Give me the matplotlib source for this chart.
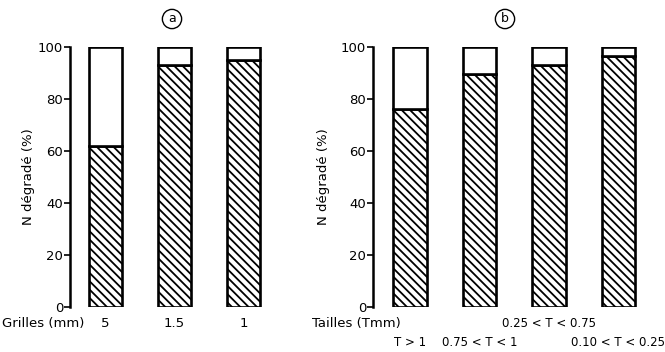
import matplotlib
matplotlib.use("Agg")
import matplotlib.pyplot as plt

# Data
grilles_labels = ["5", "1.5", "1"]
grilles_values = [62, 93, 95]
tailles_labels = ["T > 1", "0.75 < T < 1", "0.25 < T < 0.75", "0.10 < T < 0.25"]
tailles_values = [76, 89.5, 93, 96.5]
yticks = [0, 20, 40, 60, 80, 100]

plt.rcParams['font.family'] = ['DejaVu Sans']
plt.rcParams['hatch.linewidth'] = 1.3

fig = plt.figure(figsize=(6.65, 3.52), dpi=100)
axa = fig.add_axes([70/665, 1-307/352, 208/665, 260/352])
axb = fig.add_axes([373/665, 1-307/352, 280/665, 260/352])

def style(ax, n, xpad):
    ax.set_ylim(0, 100)
    ax.set_xlim(-xpad, n - 0.5)
    for s in ["top", "right", "bottom"]:
        ax.spines[s].set_visible(False)
    ax.spines["left"].set_linewidth(1.8)
    ax.set_yticks(yticks)
    ax.set_yticklabels([str(v) for v in yticks], fontsize=9.5)
    ax.tick_params(axis="y", direction="out", length=4, width=1.2, pad=1)
    ax.set_xticks([])
    ax.set_ylabel("N dégradé (%)", fontsize=9.5)

def bars(ax, vals):
    x = list(range(len(vals)))
    ax.bar(x, vals, width=0.48, color="white", edgecolor="black",
           linewidth=1.9, hatch="\\\\\\\\")
    top = [100 - v for v in vals]
    ax.bar(x, top, bottom=vals, width=0.48, color="white",
           edgecolor="black", linewidth=1.9)

style(axa, 3, 0.514)
bars(axa, grilles_values)
style(axb, 4, 0.535)
bars(axb, tailles_values)

axa.yaxis.set_label_coords(-0.17, 0.5)
axb.yaxis.set_label_coords(-0.155, 0.5)

# x labels
for i, lab in enumerate(grilles_labels):
    axa.text(i, -0.065, lab, transform=axa.get_xaxis_transform(),
             ha="center", va="center", fontsize=9.5)
fig.text(2/665, 1-324/352, "Grilles (mm)", ha="left", va="center", fontsize=9.5)

offs = [-0.135, -0.135, -0.065, -0.135]
for i, lab in enumerate(tailles_labels):
    axb.text(i, offs[i], lab, transform=axb.get_xaxis_transform(),
             ha="center", va="center", fontsize=8.5)
fig.text(312/665, 1-324/352, "Tailles (Tmm)", ha="left", va="center", fontsize=9.5)

fig.text(172/665, 1-19/352, "a", ha="center", va="center", fontsize=9,
         bbox=dict(boxstyle="circle,pad=0.25", fc="white", ec="black", lw=1))
fig.text(505/665, 1-19/352, "b", ha="center", va="center", fontsize=9,
         bbox=dict(boxstyle="circle,pad=0.25", fc="white", ec="black", lw=1))

fig.savefig("out.png", dpi=100)
